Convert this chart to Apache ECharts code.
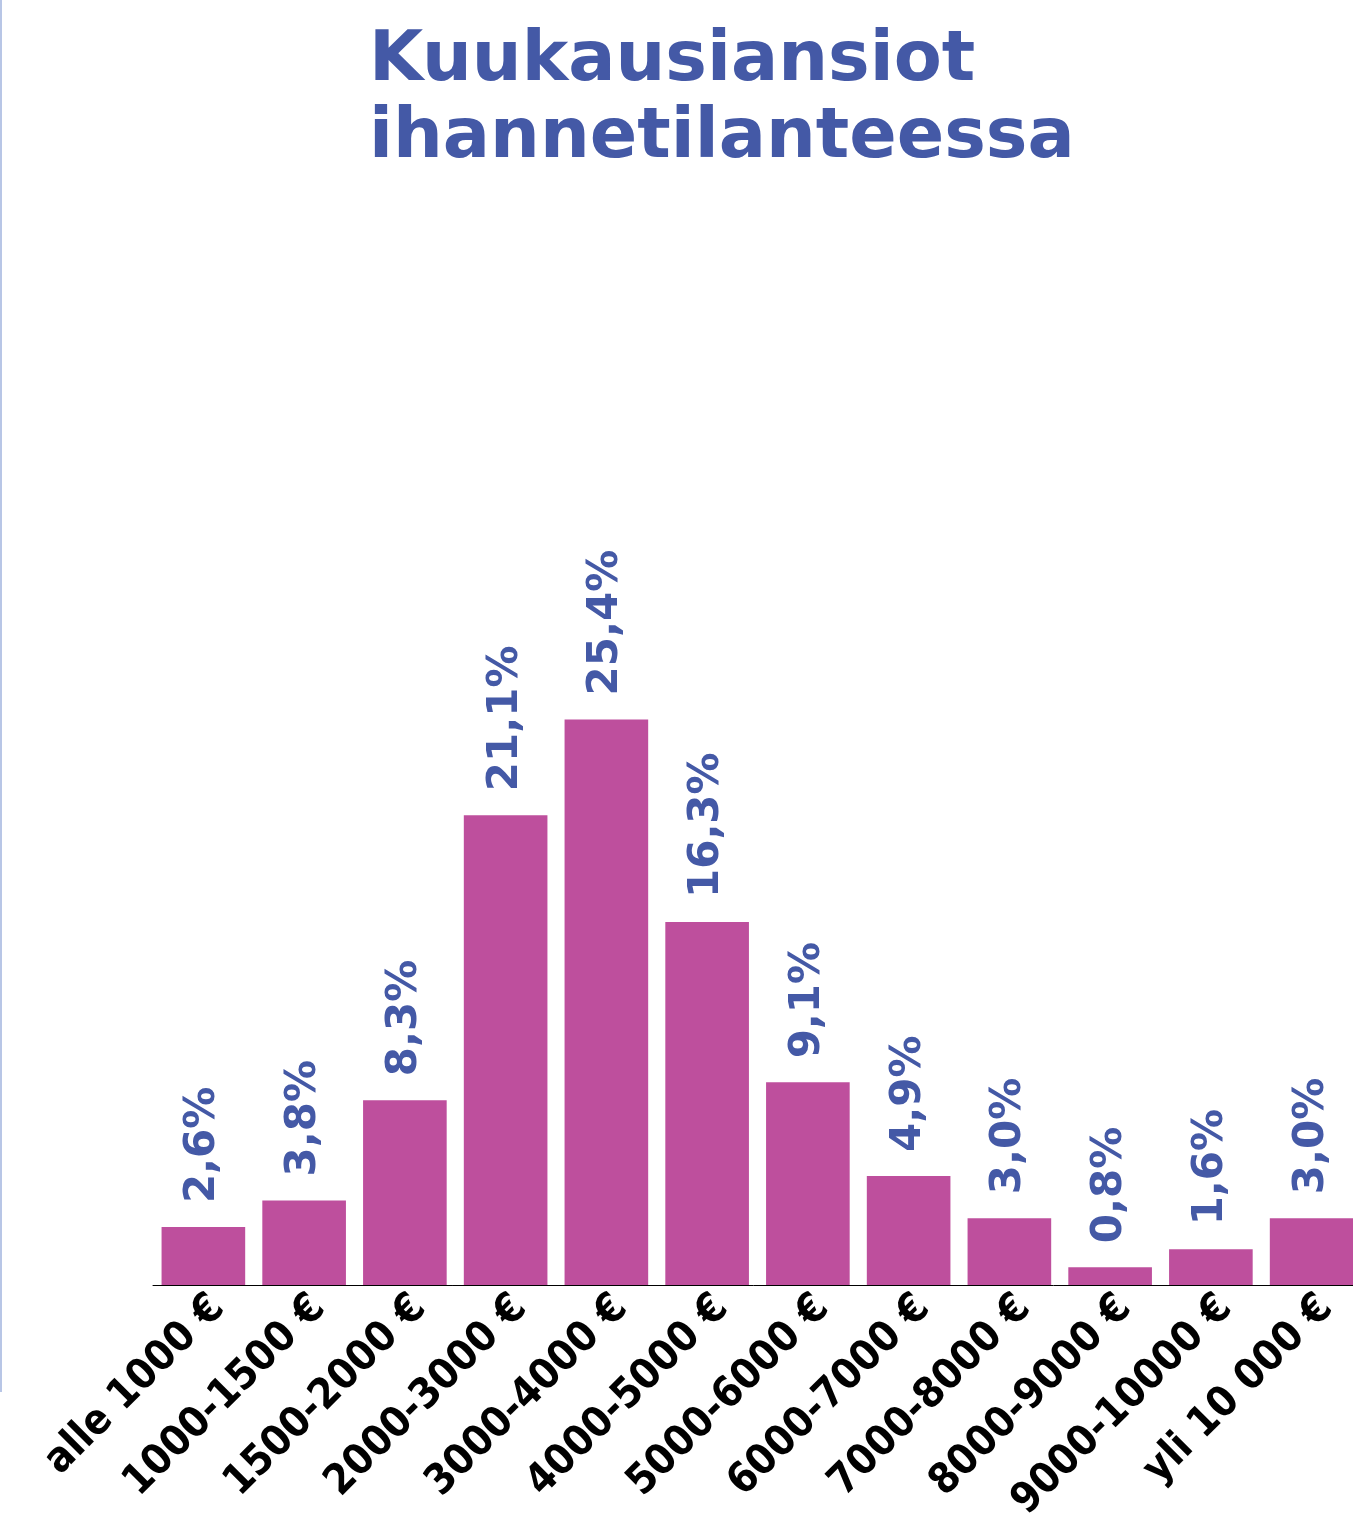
<!DOCTYPE html>
<html>
<head>
<meta charset="utf-8">
<script src="https://cdn.jsdelivr.net/npm/echarts@6/dist/echarts.min.js"></script>
<style>
  html, body { margin: 0; padding: 0; background: #fff; }
  #chart { width: 1353px; height: 1520px; }
</style>
</head>
<body>
<div id="chart"></div>
<script>
const categories = ['alle 1000 €', '1000-1500 €', '1500-2000 €', '2000-3000 €', '3000-4000 €', '4000-5000 €',
  '5000-6000 €', '6000-7000 €', '7000-8000 €', '8000-9000 €', '9000-10000 €', 'yli 10 000 €']
const shares = [2.6, 3.8, 8.3, 21.1, 25.4, 16.3, 9.1, 4.9, 3.0, 0.8, 1.6, 3.0]

const blue = '#4459a6'
const magenta = '#be4f9d'

const chart = echarts.init(document.getElementById('chart'))
chart.setOption({
  backgroundColor: '#fff',
  animation: false,
  title: {
    text: 'Kuukausiansiot\nihannetilanteessa',
    left: 364,
    top: 18,
    textStyle: {
      fontFamily: 'DejaVu Sans',
      fontWeight: 'bold',
      fontSize: 70,
      lineHeight: 77,
      color: blue
    }
  },
  // thin guide line on the left edge
  graphic: [{
    type: 'rect',
    shape: { x: 0, y: 0, width: 2, height: 1392 },
    style: { fill: '#b8c6e6' }
  }],
  grid: { left: 153, right: -9, top: 617, bottom: 235, outerBoundsMode: 'none', containLabel: false },
  xAxis: {
    type: 'category',
    data: categories,
    axisLine: { lineStyle: { color: '#000', width: 1 } },
    axisTick: { show: false },
    axisLabel: {
      interval: 0,
      rotate: 45,
      margin: 2,
      verticalAlign: 'top',
      color: '#000',
      fontFamily: '"DejaVu Sans Condensed", "Liberation Sans Narrow", Roboto, sans-serif',
      fontWeight: 'bold',
      fontSize: 42
    }
  },
  yAxis: {
    type: 'value',
    min: 0,
    max: 30,
    show: false,
    splitLine: { show: false }
  },
  series: [{
    type: 'bar',
    data: shares,
    barCategoryGap: '17%',
    itemStyle: { color: magenta },
    label: {
      show: true,
      position: 'top',
      rotate: 90,
      align: 'left',
      verticalAlign: 'middle',
      distance: 24,
      color: blue,
      fontFamily: 'DejaVu Sans',
      fontWeight: 'bold',
      fontSize: 42,
      formatter: p => p.value.toFixed(1).replace('.', ',') + '%'
    }
  }]
})
</script>
</body>
</html>
